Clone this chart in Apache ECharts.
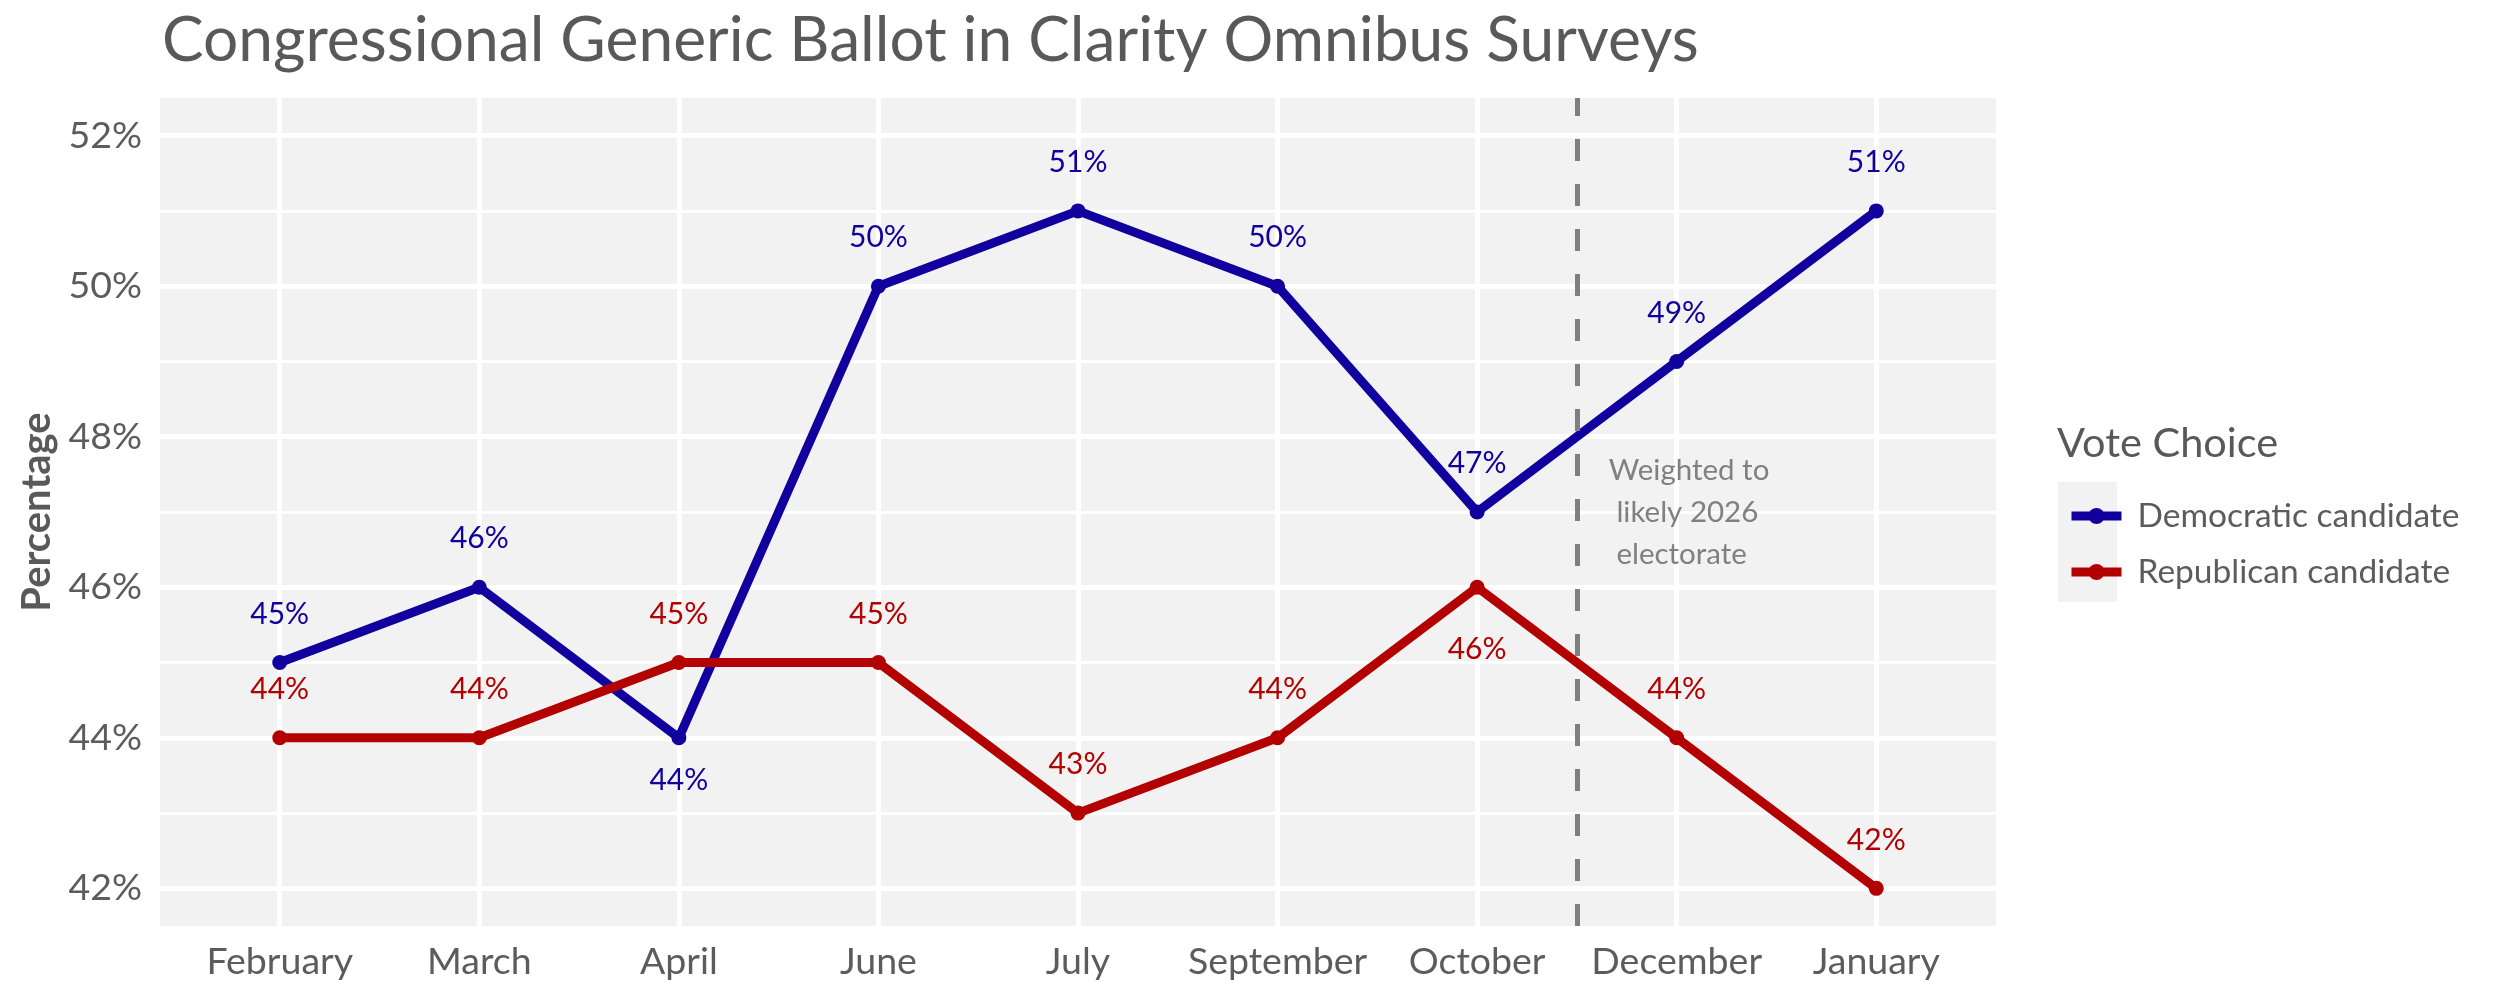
<!DOCTYPE html>
<html>
<head>
<meta charset="utf-8">
<script src="https://cdn.jsdelivr.net/npm/echarts@6/dist/echarts.min.js"></script>
<style>
html,body{margin:0;padding:0;background:#ffffff;}
#chart{width:2500px;height:1000px;}
</style>
</head>
<body>
<div id="chart"></div>
<script>
// ---- data ----
const months = ['February','March','April','June','July','September','October','December','January'];
const democratic = [45, 46, 44, 50, 51, 50, 47, 49, 51];
const republican = [44, 44, 45, 45, 43, 44, 46, 44, 42];
const yMajorTicks = [42, 44, 46, 48, 50, 52];
const yMinorTicks = [43, 45, 47, 49, 51];
const dividerAfter = 'October';            // dashed line between October and December
const annotationText = 'Weighted to\n likely 2026\n electorate';
const annotationValue = 47;                 // vertical centre of the note, in %
const demBelow = ['April'];                 // labels placed below the point
const repBelow = ['October'];

// ---- styles ----
const BLUE = '#12009e';
const RED = '#b30000';
const GREY_TXT = '#5c5c5c';
const FONT = 'Lato';

const chart = echarts.init(document.getElementById('chart'), null, {renderer: 'canvas'});

const idx = m => months.indexOf(m);
function pts(vals, below, distBelow) {
  return vals.map((v, i) => {
    const b = below.includes(months[i]);
    return {
      value: [i, v],
      label: b ? {position: 'bottom', distance: distBelow[months[i]]} : {position: 'top', distance: 26}
    };
  });
}

const gridLines = []
  .concat(yMajorTicks.map(v => ({yAxis: v, lineStyle: {width: 5}})))
  .concat(yMinorTicks.map(v => ({yAxis: v, lineStyle: {width: 3}})))
  .concat(months.map((m, i) => ({xAxis: i, lineStyle: {width: 5}})));

const option = {
  backgroundColor: '#ffffff',
  animation: false,
  textStyle: {fontFamily: FONT},
  title: [
    {text: 'Congressional Generic Ballot in Clarity Omnibus Surveys', left: 157, top: 5,
     textStyle: {fontFamily: FONT, fontSize: 62.3, fontWeight: 'normal', color: '#595959'}},
    {text: 'Vote Choice', left: 2052, top: 418,
     textStyle: {fontFamily: FONT, fontSize: 41.5, fontWeight: 'normal', color: '#595959'}}
  ],
  grid: {left: 160, right: 504, top: 98, bottom: 74, show: true, backgroundColor: '#f2f2f2', borderWidth: 0},
  legend: {
    orient: 'vertical', left: 2062, top: 494, itemWidth: 50, itemHeight: 20, itemGap: 22,
    lineStyle: {width: 9},
    textStyle: {fontFamily: FONT, fontSize: 33.5, color: GREY_TXT, padding: [0, 0, 0, 11]},
    data: ['Democratic candidate', 'Republican candidate']
  },
  xAxis: {
    type: 'value', min: -0.6, max: 8.6, interval: 0.2,
    axisLine: {show: false}, axisTick: {show: false}, splitLine: {show: false},
    axisLabel: {
      fontFamily: FONT, fontSize: 37.5, color: GREY_TXT, margin: 17,
      formatter: v => { const r = Math.round(v); return Math.abs(v - r) < 1e-6 && months[r] ? months[r] : ''; }
    }
  },
  yAxis: {
    type: 'value', min: 41.5, max: 52.5, interval: 0.5,
    name: 'Percentage', nameLocation: 'middle', nameGap: 100, nameRotate: 90,
    nameTextStyle: {fontFamily: FONT, fontSize: 40, fontWeight: 'bold', color: '#595959'},
    axisLine: {show: false}, axisTick: {show: false}, splitLine: {show: false},
    axisLabel: {
      fontFamily: FONT, fontSize: 37.5, color: GREY_TXT, margin: 18,
      formatter: v => yMajorTicks.includes(v) ? v + '%' : ''
    }
  },
  graphic: [
    {type: 'rect', left: 2058, top: 482, shape: {width: 59, height: 120}, style: {fill: '#f2f2f2'}, z: -1}
  ],
  series: [
    {
      type: 'line', name: '_grid', data: [], z: 1, silent: true,
      markLine: {
        silent: true, symbol: 'none', z: 1, animation: false,
        label: {show: false},
        lineStyle: {color: '#ffffff', type: 'solid'},
        data: gridLines
      }
    },
    {
      type: 'line', name: '_divider', data: [], z: 4, silent: true,
      markLine: {
        silent: true, symbol: 'none', z: 4, animation: false,
        label: {show: false},
        lineStyle: {color: '#7f7f7f', type: [22, 23], width: 5},
        data: [{xAxis: idx(dividerAfter) + 0.5}]
      },
      markPoint: {
        silent: true, symbol: 'circle', symbolSize: 0, animation: false,
        label: {show: true, position: 'inside', formatter: annotationText, fontFamily: FONT, fontSize: 29.5,
                lineHeight: 42, color: '#808080', align: 'left'},
        data: [{coord: [idx(dividerAfter) + 0.66, annotationValue]}]
      }
    },
    {
      type: 'line', name: 'Democratic candidate', z: 3,
      data: pts(democratic, demBelow, {'April': 20}),
      symbol: 'circle', symbolSize: 15,
      lineStyle: {color: BLUE, width: 9}, itemStyle: {color: BLUE},
      label: {show: true, formatter: p => p.value[1] + '%', fontFamily: FONT, fontSize: 30, color: BLUE}
    },
    {
      type: 'line', name: 'Republican candidate', z: 3,
      data: pts(republican, repBelow, {'October': 40}),
      symbol: 'circle', symbolSize: 15,
      lineStyle: {color: RED, width: 9}, itemStyle: {color: RED},
      label: {show: true, formatter: p => p.value[1] + '%', fontFamily: FONT, fontSize: 30, color: RED}
    }
  ]
};
chart.setOption(option);
</script>
</body>
</html>
